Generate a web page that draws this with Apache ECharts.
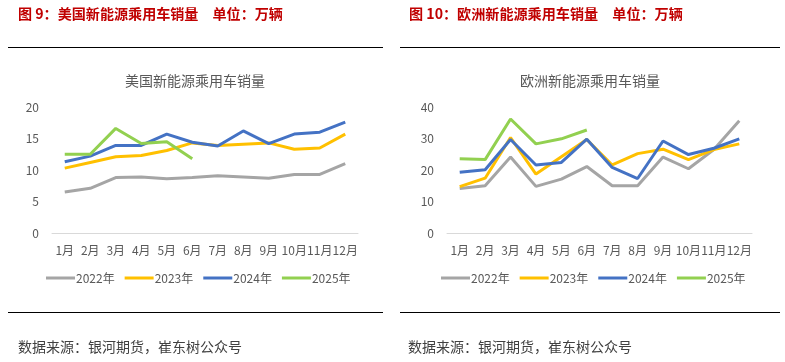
<!DOCTYPE html>
<html><head><meta charset="utf-8">
<script src="https://cdn.jsdelivr.net/npm/echarts@6/dist/echarts.min.js"></script>
<style>html,body{margin:0;padding:0;background:#fff;}#c{width:785px;height:362px;}</style>
</head><body><div id="c"></div>
<script>
const months = ['1月','2月','3月','4月','5月','6月','7月','8月','9月','10月','11月','12月'];
const seriesNames = ['2022年','2023年','2024年','2025年'];
const colors = ['#A5A5A5','#FFC000','#4472C4','#92D050'];
// 美国新能源乘用车销量（万辆）
const us2022 = [6.5,7.1,8.8,8.9,8.6,8.8,9.1,8.9,8.7,9.3,9.3,11.0];
const us2023 = [10.3,11.2,12.1,12.3,13.1,14.3,13.9,14.1,14.3,13.3,13.5,15.7];
const us2024 = [11.3,12.2,13.9,13.9,15.7,14.4,13.8,16.2,14.2,15.7,16.0,17.6];
const us2025 = [12.5,12.5,16.6,14.2,14.5,11.8];
// 欧洲新能源乘用车销量（万辆）
const eu2022 = [14.1,15.0,24.1,14.8,17.1,21.1,15.0,15.0,24.1,20.4,26.5,35.6];
const eu2023 = [14.7,17.4,30.3,18.7,24.2,29.7,21.6,25.2,26.6,23.3,26.5,28.3];
const eu2024 = [19.3,20.1,29.7,21.6,22.4,29.8,20.8,17.3,29.2,24.9,26.9,29.9];
const eu2025 = [23.6,23.3,36.2,28.3,29.9,32.7];
const usTicks = {min:0,max:20,interval:5};
const euTicks = {min:0,max:40,interval:10};

const usData = [us2022,us2023,us2024,us2025];
const euData = [eu2022,eu2023,eu2024,eu2025];
const labelColor = '#595959';
const font = '"Microsoft YaHei","Noto Sans CJK SC",sans-serif';

const headLeft = '图 9：美国新能源乘用车销量　单位：万辆';
const headRight = '图 10：欧洲新能源乘用车销量　单位：万辆';
const mctx = document.createElement('canvas').getContext('2d');
function fitSize(text, target){
  mctx.font = 'bold 15px ' + font;
  const w = mctx.measureText(text).width;
  return Math.max(13, Math.min(16, 15 * target / w));
}
const fsL = fitSize(headLeft, 265);
const fsR = fitSize(headRight, 274);

function xAxis(i){return {type:'category',gridIndex:i,data:months,boundaryGap:true,
  axisLine:{lineStyle:{color:'#D9D9D9',width:1}},axisTick:{show:false},
  axisLabel:{color:labelColor,fontSize:12,fontFamily:font,margin:11,interval:0}};}
function yAxis(i,t){return {type:'value',gridIndex:i,min:t.min,max:t.max,interval:t.interval,
  axisLine:{show:false},axisTick:{show:false},splitLine:{show:false},
  axisLabel:{color:labelColor,fontSize:12,fontFamily:font,margin:13}};}

const series=[];
[usData,euData].forEach((set,gi)=>{
  set.forEach((d,k)=>{
    series.push({name:seriesNames[k],type:'line',xAxisIndex:gi,yAxisIndex:gi,data:d,
      symbol:'none',smooth:false,lineStyle:{color:colors[k],width:3},itemStyle:{color:colors[k]},z:2+(k===3?1:0)});
  });
});

function legend(left){return {left:left,top:272,padding:0,itemWidth:29,itemHeight:3,itemGap:10,icon:'rect',
  data:seriesNames,textStyle:{color:labelColor,fontSize:12,fontFamily:font,padding:[0,0,0,-4]}};}

const chart = echarts.init(document.getElementById('c'),null,{renderer:'canvas'});
chart.setOption({
  animation:false,
  backgroundColor:'#fff',
  color:colors,
  title:[
    {text:'美国新能源乘用车销量',left:195,top:74,padding:0,textAlign:'center',textStyle:{color:labelColor,fontSize:14,fontWeight:'normal',fontFamily:font}},
    {text:'欧洲新能源乘用车销量',left:590,top:74,padding:0,textAlign:'center',textStyle:{color:labelColor,fontSize:14,fontWeight:'normal',fontFamily:font}}
  ],
  grid:[
    {left:52,right:427,top:107,bottom:129},
    {left:447,right:33,top:107,bottom:129}
  ],
  xAxis:[xAxis(0),xAxis(1)],
  yAxis:[yAxis(0,usTicks),yAxis(1,euTicks)],
  legend:[legend(46),legend(441)],
  series:series,
  graphic:[
    {type:'text',left:18,top:7,style:{text:headLeft,fill:'#C00000',font:'bold '+fsL+'px '+font}},
    {type:'text',left:409,top:7,style:{text:headRight,fill:'#C00000',font:'bold '+fsR+'px '+font}},
    {type:'line',shape:{x1:8,y1:47.5,x2:383,y2:47.5},style:{stroke:'#000',lineWidth:1}},
    {type:'line',shape:{x1:400,y1:47.5,x2:780,y2:47.5},style:{stroke:'#000',lineWidth:1}},
    {type:'line',shape:{x1:8,y1:312.5,x2:383,y2:312.5},style:{stroke:'#000',lineWidth:1}},
    {type:'line',shape:{x1:400,y1:312.5,x2:780,y2:312.5},style:{stroke:'#000',lineWidth:1}},
    {type:'text',left:18,top:340,style:{text:'数据来源：银河期货，崔东树公众号',fill:'#404040',font:'14px '+font}},
    {type:'text',left:408,top:340,style:{text:'数据来源：银河期货，崔东树公众号',fill:'#404040',font:'14px '+font}}
  ]
});
</script></body></html>
